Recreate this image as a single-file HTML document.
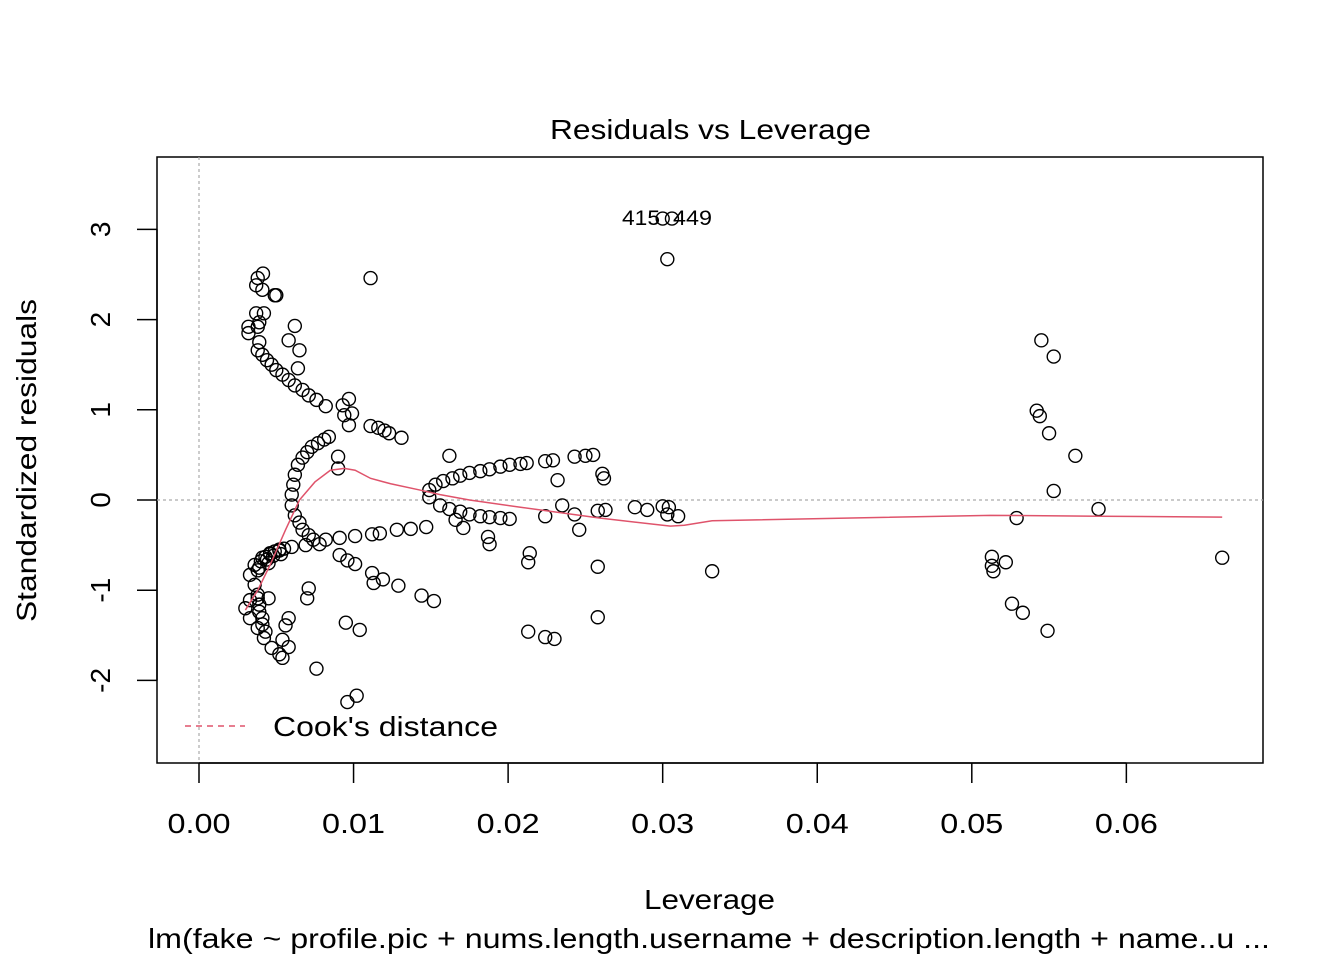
<!DOCTYPE html>
<html><head><meta charset="utf-8"><style>
html,body{margin:0;padding:0;background:#fff}
svg{display:block;font-family:"Liberation Sans",Arial,sans-serif}
</style></head><body>
<svg id="chart" width="1344" height="960" xmlns="http://www.w3.org/2000/svg">
<rect x="0" y="0" width="1344" height="960" fill="#fff"/>
<text x="550" y="139" font-size="28" textLength="321" lengthAdjust="spacingAndGlyphs">Residuals vs Leverage</text>
<rect x="157" y="157" width="1106" height="606" fill="none" stroke="#000" stroke-width="1.5"/>
<g id="xaxis"></g>
<g id="yaxis"></g>
<g id="reflines"></g>
<g id="points"></g>
<g id="smooth"></g>
<text x="622" y="225" font-size="21" textLength="38" lengthAdjust="spacingAndGlyphs">415</text>
<text x="673" y="225" font-size="21" textLength="39" lengthAdjust="spacingAndGlyphs">449</text>
<line x1="185" y1="726" x2="245" y2="726" stroke="#DF536B" stroke-width="1.5" stroke-dasharray="6,5"/>
<text x="273" y="736" font-size="28" textLength="225" lengthAdjust="spacingAndGlyphs">Cook's distance</text>
<text x="644" y="909" font-size="28" textLength="131" lengthAdjust="spacingAndGlyphs">Leverage</text>
<text x="148" y="948" font-size="28" textLength="1122" lengthAdjust="spacingAndGlyphs">lm(fake ~ profile.pic + nums.length.username + description.length + name..u ...</text>
<text transform="translate(36,622) rotate(-90)" font-size="28" textLength="323" lengthAdjust="spacingAndGlyphs">Standardized residuals</text>
</svg>
<script>
const xTicks=[0,0.01,0.02,0.03,0.04,0.05,0.06];
const xTickLabels=["0.00","0.01","0.02","0.03","0.04","0.05","0.06"];
const yTicks=[-2,-1,0,1,2,3];
const yTickLabels=["-2","-1","0","1","2","3"];
const leverage=[0.0300,0.0306,0.0303,0.0111,
0.00414,0.0038,0.0037,0.0041,0.0050,0.0049,0.0037,0.0042,0.0039,0.0038,0.0032,0.0032,0.0039,0.0038,0.0041,0.0044,0.0047,0.0050,0.0054,0.0058,0.0062,0.0067,0.0071,0.0076,0.0082,0.0062,0.0058,0.0065,0.0064,0.0093,0.0097,0.0094,0.0099,0.0097,0.0111,0.0116,0.0120,0.0123,0.0131,
0.0060,0.0061,0.0062,0.0064,0.0067,0.0070,0.0073,0.0077,0.0081,0.0084,0.0090,0.0090,
0.0060,0.0062,0.0065,0.0067,0.0071,0.0074,0.0078,
0.0033,0.0036,0.0041,0.0046,0.0052,0.0060,0.0069,0.0082,0.0091,0.0101,0.0112,0.0117,0.0128,0.0137,0.0147,
0.0091,0.0096,0.0101,0.0112,0.0119,0.0113,0.0129,0.0144,0.0152,
0.0071,0.0070,0.0030,0.0033,0.0038,0.0045,0.0041,0.0038,0.0042,0.0047,0.0052,0.0054,0.0058,0.0054,0.0058,0.0056,0.0076,0.0095,0.0104,0.0096,0.0102,0.0033,
0.0036,0.0038,0.0039,0.0039,0.0041,0.0043,
0.0040,0.0043,0.0046,0.0049,0.0052,0.0055,0.0038,0.0044,0.0048,0.0053,0.0039,0.0045,
0.0149,0.0153,0.0158,0.0164,0.0169,0.0175,0.0182,0.0188,0.0195,0.0201,0.0208,0.0212,0.0224,0.0229,0.0243,0.0250,0.0255,0.0162,0.0261,0.0262,0.0232,
0.0149,0.0156,0.0162,0.0169,0.0175,0.0182,0.0188,0.0195,0.0201,0.0166,0.0171,0.0187,0.0188,0.0224,0.0235,0.0243,0.0246,0.0214,0.0213,0.0258,0.0258,0.0213,0.0224,0.0230,0.0258,0.0263,0.0282,0.0290,0.0300,0.0304,0.0303,0.0310,0.0332,
0.0545,0.0553,0.0542,0.0544,0.0550,0.0567,0.0553,0.0582,0.0529,0.0513,0.0513,0.0514,0.0522,0.0526,0.0533,0.0549,0.0662];
const stdResid=[3.12,3.12,2.67,2.46,
2.51,2.46,2.38,2.33,2.27,2.27,2.07,2.07,1.97,1.92,1.85,1.92,1.75,1.66,1.61,1.55,1.50,1.44,1.39,1.33,1.27,1.22,1.16,1.11,1.04,1.93,1.77,1.66,1.46,1.05,1.12,0.94,0.96,0.83,0.82,0.80,0.77,0.74,0.69,
0.06,0.17,0.28,0.39,0.47,0.53,0.59,0.63,0.67,0.70,0.48,0.35,
-0.06,-0.17,-0.25,-0.33,-0.39,-0.44,-0.49,
-0.83,-0.72,-0.64,-0.59,-0.55,-0.52,-0.50,-0.44,-0.42,-0.40,-0.38,-0.37,-0.33,-0.32,-0.30,
-0.61,-0.67,-0.71,-0.81,-0.88,-0.92,-0.95,-1.06,-1.12,
-0.98,-1.09,-1.20,-1.11,-1.09,-1.09,-1.31,-1.42,-1.53,-1.64,-1.71,-1.75,-1.63,-1.55,-1.31,-1.39,-1.87,-1.36,-1.44,-2.24,-2.17,-1.31,
-0.94,-1.05,-1.16,-1.24,-1.38,-1.46,
-0.68,-0.63,-0.60,-0.57,-0.56,-0.54,-0.78,-0.66,-0.62,-0.60,-0.75,-0.70,
0.11,0.17,0.21,0.24,0.27,0.30,0.32,0.34,0.37,0.39,0.40,0.41,0.43,0.44,0.48,0.49,0.50,0.49,0.29,0.24,0.22,
0.03,-0.06,-0.10,-0.13,-0.16,-0.18,-0.19,-0.20,-0.21,-0.22,-0.31,-0.41,-0.49,-0.18,-0.06,-0.16,-0.33,-0.59,-0.69,-0.74,-1.30,-1.46,-1.52,-1.54,-0.12,-0.11,-0.08,-0.11,-0.07,-0.08,-0.16,-0.18,-0.79,
1.77,1.59,0.99,0.93,0.74,0.49,0.10,-0.10,-0.20,-0.63,-0.73,-0.79,-0.69,-1.15,-1.25,-1.45,-0.64];
const smoothX=[0.0030,0.0038,0.0046,0.0056,0.0065,0.0075,0.0085,0.0094,0.0101,0.0111,0.0124,0.0143,0.0156,0.0175,0.0208,0.0259,0.0305,0.0314,0.0332,0.0512,0.0583,0.0662];
const smoothY=[-1.22,-1.00,-0.72,-0.33,0,0.20,0.33,0.35,0.33,0.24,0.18,0.11,0.06,0,-0.08,-0.20,-0.29,-0.28,-0.23,-0.17,-0.18,-0.19];

const NS="http://www.w3.org/2000/svg";
const sx=v=>199+v*15456;
const sy=v=>500-v*90.2;
function mk(tag,attrs,parent){const e=document.createElementNS(NS,tag);for(const k in attrs)e.setAttribute(k,attrs[k]);parent.appendChild(e);return e;}
const xa=document.getElementById('xaxis'),ya=document.getElementById('yaxis');
mk('line',{x1:sx(0),x2:sx(0.06),y1:763,y2:763,stroke:'#000','stroke-width':1.5},xa);
xTicks.forEach((t,i)=>{
 const l=mk('line',{x1:sx(t),x2:sx(t),y1:763,y2:783,stroke:'#000','stroke-width':1.5},xa);
 
 
 const tx=mk('text',{x:sx(t)-31.5,y:833,'font-size':28,textLength:63,lengthAdjust:'spacingAndGlyphs'},xa);
 tx.textContent=xTickLabels[i];
 
 
});
mk('line',{x1:157,x2:157,y1:sy(-2),y2:sy(3),stroke:'#000','stroke-width':1.5},ya);
yTicks.forEach((t,i)=>{
 const l=mk('line',{x1:137,x2:157,y1:sy(t),y2:sy(t),stroke:'#000','stroke-width':1.5},ya);
 
 
 const tx=mk('text',{transform:`translate(110,${sy(t)}) rotate(-90)`,'font-size':28,'text-anchor':'middle'},ya);
 tx.textContent=yTickLabels[i];
 
 
});
const rl=document.getElementById('reflines');
const h=mk('line',{x1:157,x2:1263,y1:sy(0),y2:sy(0),stroke:'#aaa','stroke-width':1.2,'stroke-dasharray':'3,3'},rl);


const v=mk('line',{x1:sx(0),x2:sx(0),y1:157,y2:763,stroke:'#aaa','stroke-width':1.2,'stroke-dasharray':'3,3'},rl);


const pg=document.getElementById('points');
leverage.forEach((x,i)=>{
 const c=mk('circle',{cx:sx(x),cy:sy(stdResid[i]),r:6.5,fill:'none',stroke:'#000','stroke-width':1.4},pg);
 
 
});
const sg=document.getElementById('smooth');
const p=mk('polyline',{points:smoothX.map((x,i)=>sx(x)+','+sy(smoothY[i])).join(' '),fill:'none',stroke:'#DF536B','stroke-width':1.5},sg);


</script>
</body></html>
